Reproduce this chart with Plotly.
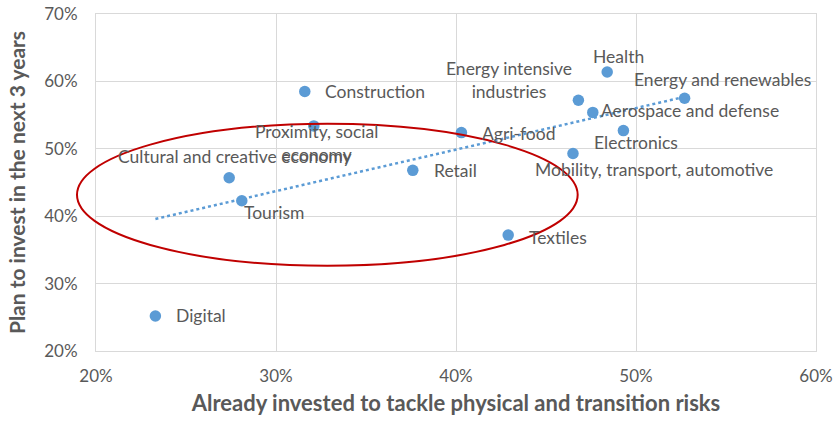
import numpy as np
import plotly.graph_objects as go

sectors = ["Digital", "Cultural and creative economy", "Tourism", "Construction",
           "Proximity, social<br>economy", "Retail", "Agri-food", "Textiles",
           "Mobility, transport, automotive", "Energy intensive<br>industries",
           "Aerospace and defense", "Health", "Electronics", "Energy and renewables"]
already_invested = [23.3, 27.4, 28.1, 31.6, 32.1, 37.6, 40.3, 42.9, 46.5, 46.8, 47.6, 48.4, 49.3, 52.7]
plan_to_invest = [25.2, 45.7, 42.3, 58.5, 53.4, 46.8, 52.4, 37.2, 49.3, 57.2, 55.4, 61.4, 52.7, 57.5]
x_ticks = [20, 30, 40, 50, 60]
x_tick_labels = ["20%", "30%", "40%", "50%", "60%"]
y_ticks = [20, 30, 40, 50, 60, 70]
y_tick_labels = ["20%", "30%", "40%", "50%", "60%", "70%"]

# label placement: (xanchor, dx px, dy px downward)
label_pos = [("left", 19, 0), ("right", 124, -21), ("left", 0, 12), ("left", 18, 0),
             ("center", 3, 17), ("left", 19, 0), ("left", 19, 1), ("left", 19, 2),
             ("left", -40, 16), ("center", -69, -20), ("left", 6, -2), ("center", 11, -15),
             ("center", 13, 12), ("center", 38, -19)]

BLUE = "#5B9BD5"
GRAY = "#595959"
GRID = "#D9D9D9"
FONT = "Lato, Calibri, sans-serif"

xs = np.array(already_invested)
ys = np.array(plan_to_invest)
slope, intercept = np.polyfit(xs, ys, 1)
trend_x = [xs.min(), xs.max()]
trend_y = [slope * v + intercept for v in trend_x]

fig = go.Figure()
fig.add_trace(go.Scatter(x=trend_x, y=trend_y, mode="lines",
                         line=dict(color=BLUE, width=2.5, dash="dot"), hoverinfo="skip"))
fig.add_trace(go.Scatter(x=already_invested, y=plan_to_invest, mode="markers",
                         marker=dict(color=BLUE, size=11.5), text=sectors))

for name, x, y, (xa, dx, dy) in zip(sectors, already_invested, plan_to_invest, label_pos):
    fig.add_annotation(x=x, y=y, text=name, showarrow=False, xanchor=xa, yanchor="middle",
                       xshift=dx, yshift=-dy, font=dict(family=FONT, size=17.5, color=GRAY))

# red ellipse highlighting the lower-investment group
fig.add_shape(type="circle", xref="paper", yref="paper",
              x0=-0.0264, x1=0.669, y0=0.253, y1=0.674,
              line=dict(color="#C00000", width=2), layer="above")

fig.update_layout(
    width=834, height=423, showlegend=False,
    plot_bgcolor="white", paper_bgcolor="white",
    margin=dict(l=96, r=18, t=14, b=72, autoexpand=False),
    font=dict(family=FONT, color=GRAY),
)
fig.update_xaxes(range=[20, 60], tickvals=x_ticks, ticktext=x_tick_labels, showgrid=True,
                 gridcolor=GRID, gridwidth=1, showline=True, mirror=True, linecolor=GRID,
                 zeroline=False, ticks="", ticklabelstandoff=10, automargin=False,
                 tickfont=dict(family=FONT, size=17, color=GRAY),
                 title=dict(text="<b>Already invested to tackle physical and transition risks</b>",
                            font=dict(family=FONT, size=22, color=GRAY), standoff=10))
fig.update_yaxes(range=[20, 70], tickvals=y_ticks, ticktext=y_tick_labels, showgrid=True,
                 gridcolor=GRID, gridwidth=1, showline=True, mirror=True, linecolor=GRID,
                 zeroline=False, ticks="", ticklabelstandoff=14, automargin=False,
                 tickfont=dict(family=FONT, size=17, color=GRAY),
                 title=dict(text="<b>Plan to invest in the next 3 years</b>",
                            font=dict(family=FONT, size=21, color=GRAY), standoff=12))

fig.write_html("out.html", config={"displayModeBar": False},
               post_script="document.body.style.margin='0px';")
